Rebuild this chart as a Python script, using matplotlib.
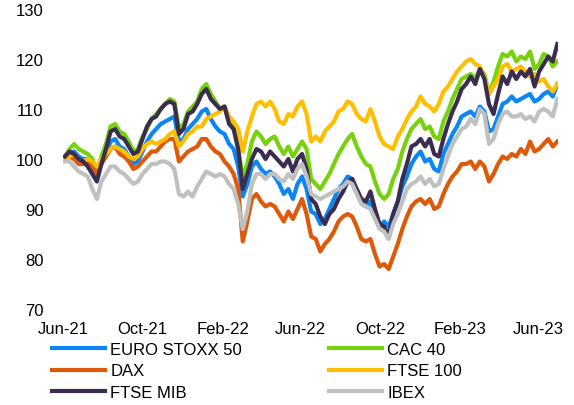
import numpy as np
import pandas as pd
import matplotlib
matplotlib.use("Agg")
import matplotlib.pyplot as plt
import matplotlib.dates as mdates

# weekly closes rebased to 100
dates = pd.date_range("2021-06-04", periods=109, freq="7D")

euro_stoxx = [100.5, 101, 101.5, 100.5, 100, 100, 99, 97, 99.5, 101,
              103.5, 104, 102.5, 102, 100.5, 99, 99.5, 101.5, 103.5, 105,
              106, 107, 107.5, 108, 108.5, 103.5, 104, 106, 107, 108,
              109.5, 110, 108, 106.5, 105.5, 105, 103, 102, 98.5, 92.5,
              95, 98.5, 99.5, 98, 97, 97.5, 96.5, 95, 93, 94,
              92, 95, 96.5, 94, 89.5, 89, 87, 88, 90, 92,
              94, 95, 96.5, 96, 93.5, 91.5, 90.5, 91.5, 88.5, 86.5,
              87.5, 86.5, 89, 91.5, 94.5, 96.5, 99, 100.5, 101.5, 99.5,
              100, 98, 97.5, 101, 103, 105, 106.5, 108.5, 109, 109.5,
              108.5, 110.5, 109.5, 105.5, 106, 108.5, 111, 111.5, 112.5, 111.5,
              112, 112.5, 113, 111.5, 112, 113, 113.5, 112.5, 115]

cac40 = [100.5, 102, 103, 102, 101.5, 101, 100, 97.5, 100.5, 103,
         106.5, 107, 105.5, 105, 103.5, 101.5, 102, 104.5, 106, 108,
         109, 110, 111, 112, 111.5, 106, 107, 109.5, 110.5, 111.5,
         114, 115, 113, 111.5, 110, 110.5, 107.5, 106, 102, 96.5,
         99, 103.5, 105.5, 104.5, 103, 104, 104.5, 102.5, 101, 102.5,
         100.5, 102, 103.5, 102, 96, 95, 94, 95.5, 97, 99,
         101, 102.5, 104, 105, 102.5, 100.5, 99, 98.5, 95.5, 93,
         92, 93, 96, 98, 101.5, 104, 106, 107, 108, 106,
         106.5, 104.5, 104, 107.5, 109.5, 112, 114, 116, 116.5, 117,
         116, 118, 117, 113, 115.5, 118.5, 121, 120.5, 121.5, 119.5,
         120.5, 120, 121.5, 118, 119, 121, 120.5, 118.5, 119.5]

dax = [100, 100.5, 100, 99, 99, 99.5, 98.5, 97, 99, 100.5,
       102, 102.5, 101, 100.5, 99.5, 98, 98.5, 99.5, 100.5, 101.5,
       101.5, 102.5, 103.5, 104, 104, 99.5, 100.5, 101.5, 102, 102.5,
       104, 104, 102.5, 101.5, 101, 99.5, 98.5, 97, 94, 83.5,
       87.5, 92, 93, 91.5, 90.5, 91, 90.5, 89, 87.5, 89.5,
       88, 90, 92, 89, 84.5, 84, 81.5, 83, 84, 85.5,
       87.5, 88.5, 89, 88.5, 86.5, 84, 83.5, 84, 81, 78.5,
       79, 78, 80.5, 83, 86, 88.5, 90.5, 91.5, 92, 91,
       92, 90, 90.5, 93, 95, 96.5, 97.5, 99, 99, 99.5,
       98, 99.5, 98.5, 95.5, 97, 99, 100.5, 100, 101, 100.5,
       102, 101, 103.5, 101.5, 102, 103, 104, 102.5, 103.5]

ftse100 = [100, 100.5, 101, 100, 99.5, 100, 99.5, 98.5, 100, 101,
           102, 102.5, 102, 101.5, 100.5, 100, 100.5, 102, 103, 103.5,
           103, 103.5, 104, 105, 105.5, 102.5, 103.5, 105, 105.5, 106.5,
           106.5, 108, 108.5, 109, 109.5, 110.5, 108.5, 107.5, 106, 101.5,
           105.5, 108.5, 111, 111.5, 110.5, 111.5, 110, 107.5, 107, 109,
           108.5, 110.5, 111.5, 109, 103.5, 104.5, 103.5, 105.5, 106.5, 107.5,
           109.5, 110, 111.5, 111, 109, 108, 107.5, 110, 107.5, 104.5,
           103, 102.5, 102, 104.5, 106, 108, 109.5, 110.5, 112.5, 111,
           110.5, 109.5, 111, 113.5, 114.5, 116, 117.5, 118.5, 119.5, 120,
           119, 118.5, 116.5, 113, 114.5, 116, 118.5, 119, 117.5, 118,
           118.5, 117.5, 116.5, 117, 115.5, 116, 114.5, 113.5, 115]

ftse_mib = [100.5, 101.5, 101, 100, 99.5, 98.5, 97, 95.5, 99, 102,
            105.5, 106, 104.5, 104, 102.5, 101, 101.5, 104, 106.5, 108,
            108.5, 110, 111, 111.5, 111, 105, 106, 109, 109.5, 111,
            113, 114, 112, 111, 110, 110.5, 107, 106, 102, 94,
            97, 100, 102, 101.5, 100, 101.5, 100.5, 99.5, 98.5, 100,
            97.5, 100, 101, 98, 92, 91, 88.5, 87, 89, 90,
            92, 93.5, 95.5, 96, 94, 92, 91.5, 93.5, 90, 87,
            86.5, 84.5, 89, 91.5, 96, 99, 102.5, 103, 104, 102.5,
            104, 101, 100.5, 104, 107, 109.5, 111.5, 114, 115, 116.5,
            115, 118, 116, 111, 109, 113, 116.5, 115, 117.5, 116,
            117.5, 116.5, 118, 114.5, 117.5, 119, 120.5, 119.5, 123]

ibex = [99.5, 99.5, 98.5, 97.5, 97, 96.5, 94, 92, 95.5, 97,
        98.5, 98.5, 97.5, 97, 96, 95, 95.5, 97, 98, 99,
        99, 99.5, 99.5, 99, 98, 93, 92.5, 93.5, 92.5, 94.5,
        96, 97.5, 97, 96.5, 97, 96.5, 95, 94, 91, 86,
        89.5, 95, 97, 97, 96, 97, 97, 96, 95.5, 97,
        96, 98, 99, 96.5, 93, 92.5, 92, 92.5, 93, 93.5,
        94, 94.5, 95.5, 95, 93, 91, 90.5, 90, 88, 86,
        85.5, 84, 87, 89, 91.5, 94, 95, 95.5, 96.5, 95,
        96, 94.5, 95, 98, 100.5, 103, 104.5, 106, 106.5, 108,
        107, 110, 109, 103, 104, 107, 109, 109.5, 108.5, 108.5,
        109, 108, 108.5, 107.5, 109.5, 110, 109.5, 108.5, 112]

names = ["EURO STOXX 50", "CAC 40", "DAX", "FTSE 100", "FTSE MIB", "IBEX"]
series = [euro_stoxx, cac40, dax, ftse100, ftse_mib, ibex]
colors = ["#0A86F5", "#78D10F", "#DD5A0A", "#FFBF00", "#3B2D4F", "#C0C0C0"]

plt.rcParams['font.family'] = ['Liberation Sans', 'DejaVu Sans']

fig = plt.figure(figsize=(5.74, 4.06), dpi=100)
ax = fig.add_axes([63 / 574, 96 / 406, 495 / 574, 300 / 406])

lines = {}
for name, vals, c in zip(names, series, colors):
    lines[name], = ax.plot(dates, vals, color=c, lw=3.0, solid_joinstyle='round')

ax.set_ylim(70, 130)
ax.set_yticks(np.arange(70, 131, 10))
ax.set_xlim(pd.Timestamp("2021-06-01"), pd.Timestamp("2023-07-01"))
ax.set_xticks(pd.date_range("2021-06-01", "2023-06-01", freq="4MS"))
ax.xaxis.set_major_formatter(mdates.DateFormatter("%b-%y"))
ax.tick_params(axis='both', length=0, labelsize=12)
ax.tick_params(axis='x', pad=9)
ax.tick_params(axis='y', pad=14)
for s in ax.spines.values():
    s.set_visible(False)

# legend: two columns, row-major like the original
order = ["EURO STOXX 50", "DAX", "FTSE MIB", "CAC 40", "FTSE 100", "IBEX"]
fig.legend([lines[n] for n in order], order, ncol=2, loc='upper left',
           bbox_to_anchor=(52 / 574, 1 - 343 / 406), frameon=False,
           fontsize=12, handlelength=3.2, handletextpad=0.3,
           columnspacing=5.2, labelspacing=0.38, borderaxespad=0, borderpad=0)

fig.savefig("out.png", dpi=100)
